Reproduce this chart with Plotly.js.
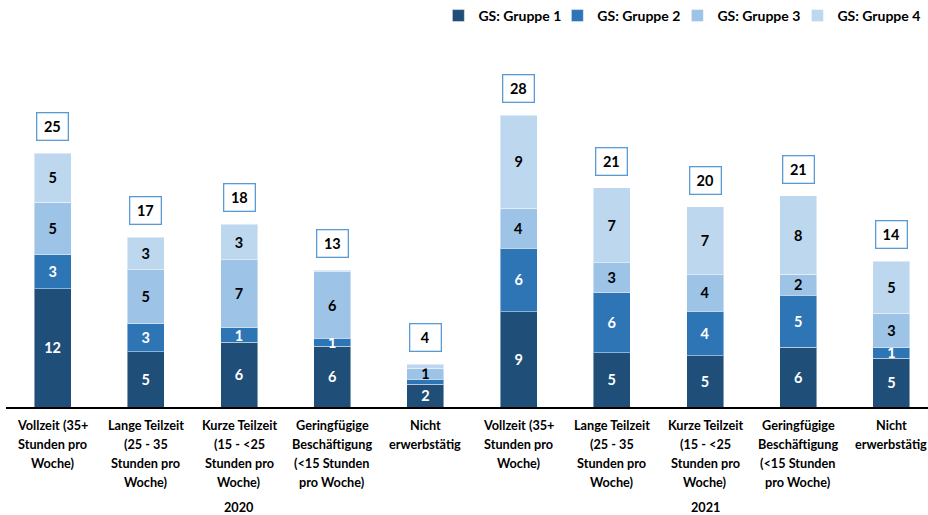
<!DOCTYPE html>
<html>
<head>
<meta charset="utf-8">
<script src="https://cdn.plot.ly/plotly-3.0.1.min.js"></script>
<style>
  html, body { margin: 0; padding: 0; overflow: hidden; background: #fff; }
  #chart { width: 945px; height: 515px; }
</style>
</head>
<body>
<div id="chart"></div>
<script>
// ---- data ----
const years = ['2020', '2020', '2020', '2020', '2020', '2021', '2021', '2021', '2021', '2021'];
const categories = [
  'Vollzeit (35+|Stunden pro|Woche)',
  'Lange Teilzeit|(25 - 35|Stunden pro|Woche)',
  'Kurze Teilzeit|(15 - <25|Stunden pro|Woche)',
  'Geringfügige|Beschäftigung|(<15 Stunden|pro Woche)',
  'Nicht|erwerbstätig',
  'Vollzeit (35+|Stunden pro|Woche)',
  'Lange Teilzeit|(25 - 35|Stunden pro|Woche)',
  'Kurze Teilzeit|(15 - <25|Stunden pro|Woche)',
  'Geringfügige|Beschäftigung|(<15 Stunden|pro Woche)',
  'Nicht|erwerbstätig'
];
const seriesNames = ['GS: Gruppe 1', 'GS: Gruppe 2', 'GS: Gruppe 3', 'GS: Gruppe 4'];
const gruppe1 = [11.55, 5.37, 6.34, 5.95, 2.24, 9.31, 5.27, 4.98, 5.85, 4.78];
const gruppe2 = [3.32, 2.77, 1.37, 0.75, 0.49, 6.20, 5.89, 4.36, 5.04, 1.00];
const gruppe3 = [5.10, 5.23, 6.65, 6.48, 1.07, 3.90, 2.93, 3.58, 2.05, 3.35];
const gruppe4 = [4.78, 3.19, 3.45, 0.15, 0.36, 9.04, 7.32, 6.60, 7.68, 5.11];

// ---- style ----
const colors = ['#1f4e79', '#2e75b6', '#9dc3e6', '#bdd7ee'];
const textColors = ['#ffffff', '#ffffff', '#000000', '#000000'];
const FONT = 'Lato, "Open Sans", "DejaVu Sans", sans-serif';
const legendX = [0.4639, 0.5898, 0.7168, 0.8438]; // one legend box per series
const legendIds = ['legend', 'legend2', 'legend3', 'legend4'];

const escapeHtml = s => s.replace(/&/g, '&amp;').replace(/</g, '&lt;').replace(/>/g, '&gt;');
const catKeys = categories.map(c => c.replace(/\|/g, ' '));

const allSeries = [gruppe1, gruppe2, gruppe3, gruppe4];
const traces = allSeries.map((vals, s) => ({
  type: 'bar',
  name: seriesNames[s],
  legend: legendIds[s],
  x: [years, catKeys],
  y: vals,
  text: vals.map(v => Math.round(v) >= 1 ? String(Math.round(v)) : ''),
  texttemplate: '%{text}',
  textposition: 'inside',
  insidetextanchor: 'middle',
  constraintext: 'none',
  textangle: 0,
  textfont: { family: FONT, size: 14.5, color: textColors[s], weight: 'bold' },
  marker: { color: colors[s], line: { color: 'rgba(255,255,255,0.45)', width: 1 } },
  hoverinfo: 'skip'
}));

const totals = gruppe1.map((_, i) => allSeries.reduce((a, arr) => a + arr[i], 0));
const annotations = totals.map((t, i) => ({
  x: i, y: t, xref: 'x', yref: 'y',
  text: String(Math.round(t)),
  showarrow: false,
  yanchor: 'bottom',
  yshift: 12,
  width: 28, height: 24,
  borderpad: 1,
  bordercolor: '#5b9bd5', borderwidth: 1.3,
  bgcolor: '#ffffff',
  font: { family: FONT, size: 14.5, color: '#000', weight: 'bold' }
}));

// category labels, one line each (Excel-like line spacing)
const LINE_START = 18, LINE_STEP = 19;
categories.forEach((c, i) => {
  c.split('|').forEach((line, k) => {
    annotations.push({
      x: i, y: 0, xref: 'x', yref: 'paper',
      text: escapeHtml(line),
      showarrow: false,
      xanchor: 'center', yanchor: 'middle',
      yshift: -(LINE_START + LINE_STEP * k),
      font: { family: FONT, size: 12.7, color: '#000', weight: 'bold' }
    });
  });
});
// year group labels, centred under each group of five
[...new Set(years)].forEach(yr => {
  const idx = years.map((y, i) => y === yr ? i : -1).filter(i => i >= 0);
  annotations.push({
    x: (idx[0] + idx[idx.length - 1]) / 2, y: 0, xref: 'x', yref: 'paper',
    text: yr, showarrow: false,
    xanchor: 'center', yanchor: 'middle',
    yshift: -100,
    font: { family: FONT, size: 12.7, color: '#000', weight: 'bold' }
  });
});

const layout = {
  width: 945, height: 515,
  margin: { l: 6, r: 7, t: 99, b: 108 },
  paper_bgcolor: '#ffffff', plot_bgcolor: '#ffffff',
  barmode: 'stack',
  bargap: 0.603,
  font: { family: FONT, color: '#000' },
  xaxis: {
    type: 'multicategory',
    showdividers: false,
    showticklabels: false,
    showline: true, linecolor: '#000', linewidth: 2,
    showgrid: false, zeroline: false,
    ticks: ''
  },
  yaxis: {
    range: [0, 30.05],
    visible: false, showgrid: false, zeroline: false
  },
  showlegend: true,
  annotations: annotations
};
legendIds.forEach((id, s) => {
  layout[id] = {
    orientation: 'h',
    xref: 'container', yref: 'container',
    x: legendX[s], xanchor: 'left',
    y: 1.0, yanchor: 'top',
    font: { family: FONT, size: 14, color: '#000', weight: 'bold' },
    itemwidth: 30,
    bgcolor: 'rgba(0,0,0,0)'
  };
});

Plotly.newPlot('chart', traces, layout, { displayModeBar: false, staticPlot: true });
</script>
</body>
</html>
